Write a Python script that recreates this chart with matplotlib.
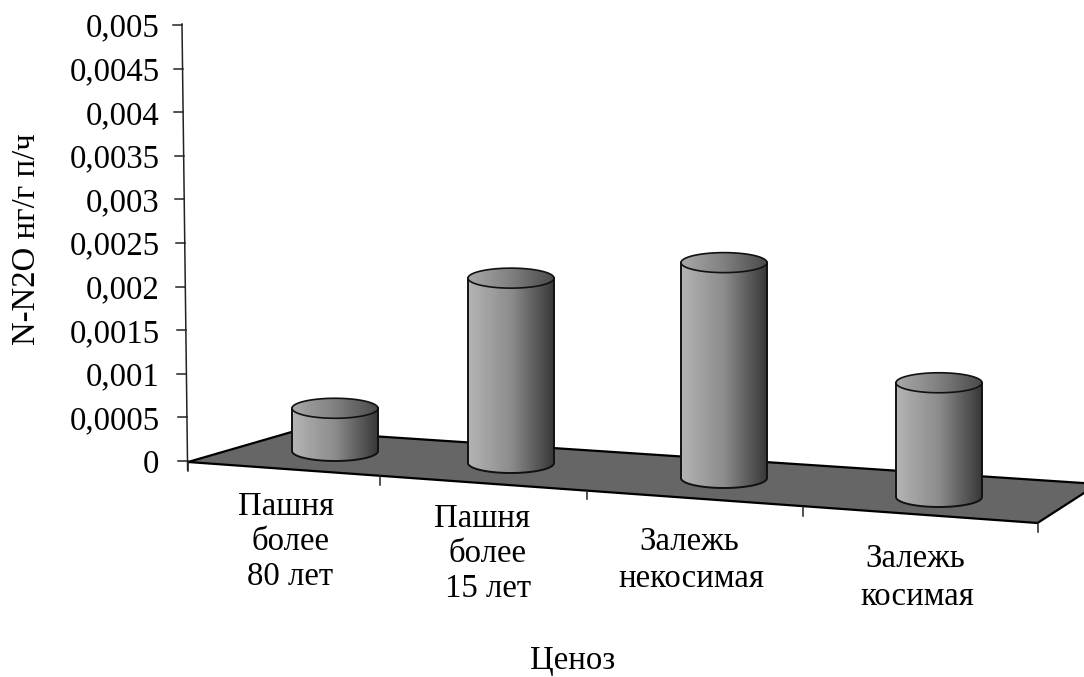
import numpy as np
import matplotlib
matplotlib.use('Agg')
import matplotlib.pyplot as plt
from matplotlib.patches import PathPatch, Polygon
from matplotlib.path import Path

# N2O flux by cenosis
categories = [['Пашня', 'более', '80 лет'], ['Пашня', 'более', '15 лет'],
              ['Залежь', 'некосимая'], ['Залежь', 'косимая']]
values = [0.00049, 0.00212, 0.00247, 0.00131]
y_ticks = [0, 0.0005, 0.001, 0.0015, 0.002, 0.0025, 0.003, 0.0035, 0.004, 0.0045, 0.005]
y_tick_labels = ['0', '0,0005', '0,001', '0,0015', '0,002', '0,0025', '0,003', '0,0035', '0,004', '0,0045', '0,005']

W, H = 1084, 677
Y0, Y_TOP = 461, 25
SCALE = (Y0 - Y_TOP) / 0.005

# where the tilted floor puts things, in figure pixels
centers_x = [335, 511, 724, 939]
bases_y = [451, 463, 478, 497]
floor_ticks = [(188, 462), (380, 476), (587, 490), (803, 507), (1037.5, 523)]
label_x = [[286.5, 290.5, 290.5], [482.5, 487, 488], [689, 691], [915, 917.5]]
label_y = [[515, 550, 585], [527, 562, 597], [550, 587], [567, 605]]
RX, RY = 43, 10

plt.rcParams['font.family'] = ['Liberation Serif']
FS = 23.6


def v(py):
    # pixel row to value on the y axis
    return (Y0 - py) / SCALE


fig = plt.figure(figsize=(W / 100, H / 100), dpi=100)
ax = fig.add_axes([183 / W, (H - Y0) / H, (W - 183) / W, (Y0 - Y_TOP) / H])
ax.patch.set_visible(False)
for s in ax.spines.values():
    s.set_visible(False)

floor = Polygon([(188, v(462)), (295, v(431)), (1098, v(484)), (1037.5, v(523))],
                closed=True, fc='#666666', ec='black', lw=1.6, clip_on=False, zorder=1)
ax.add_patch(floor)

grad = np.linspace(0, 1, 256).reshape(1, -1)
body_cmap = matplotlib.colors.LinearSegmentedColormap.from_list('body', ['#b4b4b4', '#8c8c8c', '#383838'])
top_cmap = matplotlib.colors.LinearSegmentedColormap.from_list('top', ['#a8a8a8', '#808080', '#4a4a4a'])
t = np.linspace(0, np.pi, 60)

for i, val in enumerate(values):
    cx = centers_x[i]
    base = v(bases_y[i])
    top = base + val
    ry = RY / SCALE
    z = 2 + i

    # body: top edge straight across, rounded at the bottom
    xs = np.concatenate([[cx - RX], cx - RX * np.cos(t), [cx + RX]])
    ys = np.concatenate([[top], base - ry * np.sin(t), [top]])
    body = Path(np.column_stack([xs, ys]))
    img = ax.imshow(grad, extent=(cx - RX, cx + RX, base - ry, top), cmap=body_cmap,
                    aspect='auto', zorder=z, interpolation='bilinear', vmin=0, vmax=1)
    img.set_clip_box(fig.bbox)
    img.set_clip_path(PathPatch(body, transform=ax.transData))
    ax.plot(xs, ys, color='#111111', lw=1.4, clip_on=False, zorder=z + 0.1)

    # top ellipse
    a = np.linspace(0, 2 * np.pi, 120)
    ex, ey = cx + RX * np.cos(a), top + ry * np.sin(a)
    img = ax.imshow(grad, extent=(cx - RX, cx + RX, top - ry, top + ry), cmap=top_cmap,
                    aspect='auto', zorder=z + 0.2, interpolation='bilinear', vmin=0, vmax=1)
    img.set_clip_box(fig.bbox)
    img.set_clip_path(PathPatch(Path(np.column_stack([ex, ey])), transform=ax.transData))
    ax.plot(ex, ey, color='#111111', lw=1.2, clip_on=False, zorder=z + 0.3)

ax.set_xlim(183, W)
ax.set_ylim(0, 0.005)
ax.set_xticks([])
ax.set_yticks(y_ticks)
ax.set_yticklabels(y_tick_labels, fontsize=FS)
ax.tick_params(axis='y', length=0, pad=17)

# slanted value axis with its ticks
ax_x = lambda val: 187.5 - val / 0.005 * 5.5
ax.plot([ax_x(v(470)), ax_x(v(24))], [v(470), v(24)], color='#222222', lw=1.1, clip_on=False, zorder=8)
for tk in y_ticks[1:]:
    ax.plot([ax_x(tk) - 9, ax_x(tk)], [tk, tk], color='#222222', lw=1.1, clip_on=False, zorder=8)
ax.plot([178, 188], [0, 0], color='#222222', lw=1.1, clip_on=False, zorder=8)

for px, py in floor_ticks:
    ax.plot([px, px], [v(py), v(py + 9)], color='#222222', lw=1.1, clip_on=False, zorder=8)

for names, xs, ys in zip(categories, label_x, label_y):
    for name, px, py in zip(names, xs, ys):
        fig.text(px / W, 1 - py / H, name, ha='center', va='baseline', fontsize=FS)

fig.text(26.5 / W, 1 - 239 / H, 'N-N2O нг/г п/ч', rotation=90, ha='center', va='center', fontsize=FS)
fig.text(572.5 / W, 1 - 669 / H, 'Ценоз', ha='center', va='baseline', fontsize=FS)

fig.savefig('out.png', dpi=100, facecolor='white')
